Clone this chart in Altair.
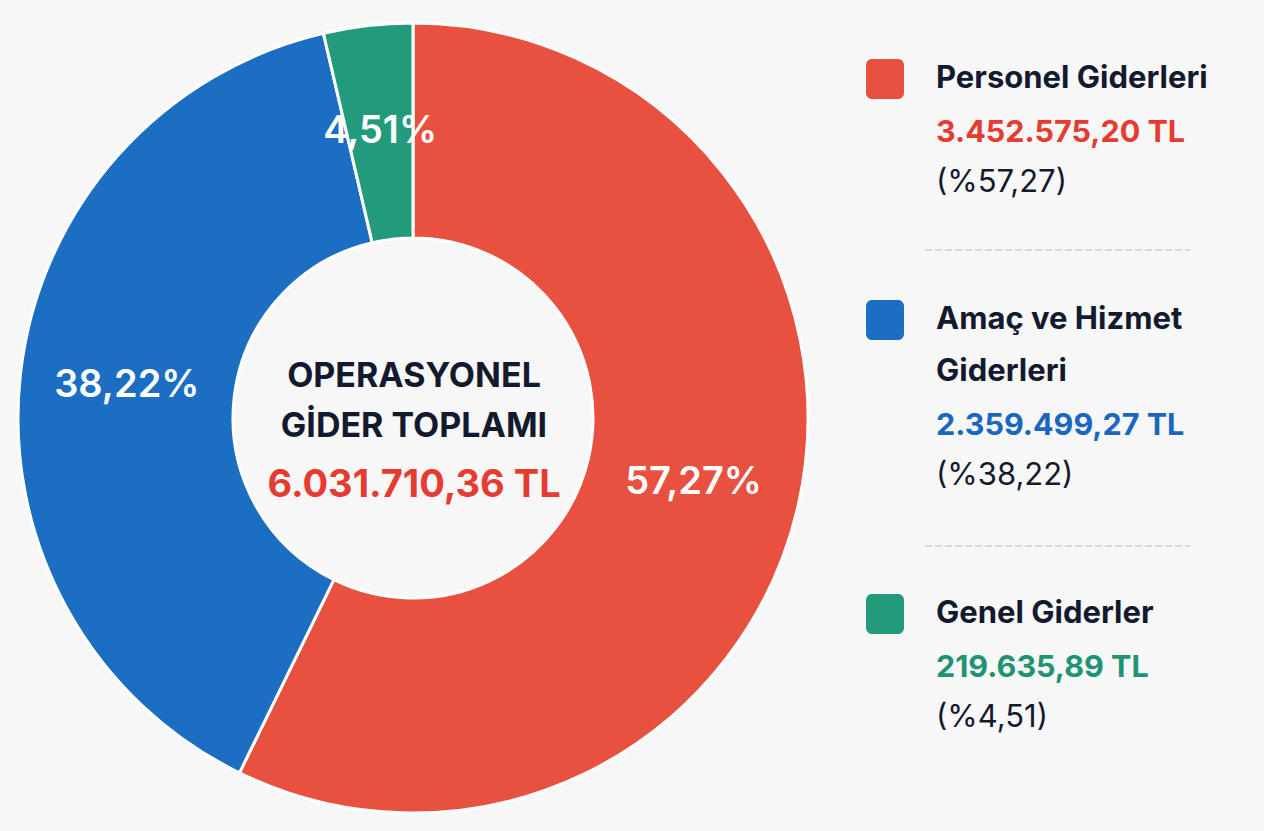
import altair as alt
import pandas as pd

# ---- data ----
categories = ["Personel Giderleri", "Amaç ve Hizmet Giderleri", "Genel Giderler"]
amounts = [3452575.20, 2359499.27, 219635.89]
percent_labels = ["57,27%", "38,22%", "4,51%"]
amount_labels = ["3.452.575,20 TL", "2.359.499,27 TL", "219.635,89 TL"]
paren_labels = ["(%57,27)", "(%38,22)", "(%4,51)"]
legend_title_lines = [["Personel Giderleri"], ["Amaç ve Hizmet", "Giderleri"], ["Genel Giderler"]]
center_lines = ["OPERASYONEL", "GİDER TOPLAMI"]
center_total = "6.031.710,36 TL"

# ---- style ----
slice_colors = ["#E8503F", "#1B6EC2", "#249A7C"]
text_colors = ["#E63B30", "#1A67C0", "#1E9474"]
dark = "#141A2E"
bg = "#F7F7F8"
FONT = "Inter"

W, H = 1264, 831
CX, CY = 413, 418
R_OUT, R_IN = 395, 180

df = pd.DataFrame({
    "cat": categories,
    "value": amounts,
    "label": percent_labels,
    "idx": list(range(len(categories))),
})

color_scale = alt.Scale(domain=categories, range=slice_colors)

base = alt.Chart(df).encode(
    theta=alt.Theta("value:Q", stack=True),
    order=alt.Order("idx:Q", sort="ascending"),
)

arcs = base.mark_arc(
    innerRadius=R_IN, outerRadius=R_OUT, stroke="white", strokeWidth=3
).encode(
    color=alt.Color("cat:N", scale=color_scale, legend=None),
    x=alt.value(CX), y=alt.value(CY),
)

pct_text = base.mark_text(
    radius=288, font=FONT, fontSize=38, fontWeight=600, color="white",
    align="center", baseline="middle",
).encode(
    text="label:N",
    x=alt.value(CX), y=alt.value(CY),
)

layers = [arcs, pct_text]

# center text
center_baselines = [387, 437]
for line, yb in zip(center_lines, center_baselines):
    layers.append(
        alt.Chart(pd.DataFrame({"t": [line]})).mark_text(
            font=FONT, fontSize=34, fontWeight="bold", color=dark,
            align="center", baseline="alphabetic",
        ).encode(text="t:N", x=alt.value(414), y=alt.value(yb))
    )
layers.append(
    alt.Chart(pd.DataFrame({"t": [center_total]})).mark_text(
        font=FONT, fontSize=38, fontWeight="bold", color=text_colors[0],
        align="center", baseline="alphabetic",
    ).encode(text="t:N", x=alt.value(414), y=alt.value(497))
)

# legend
SQ_X, SQ_W = 866, 38
TX = 936
row_tops = [59, 300, 594]
for i, cat in enumerate(categories):
    top = row_tops[i]
    layers.append(
        alt.Chart(pd.DataFrame({"c": [cat]})).mark_rect(
            cornerRadius=6, color=slice_colors[i]
        ).encode(
            x=alt.value(SQ_X), x2=alt.value(SQ_X + SQ_W),
            y=alt.value(top), y2=alt.value(top + 40),
        )
    )
    yb = top + 29
    for tl in legend_title_lines[i]:
        layers.append(
            alt.Chart(pd.DataFrame({"t": [tl]})).mark_text(
                font=FONT, fontSize=31, fontWeight="bold", color=dark,
                align="left", baseline="alphabetic",
            ).encode(text="t:N", x=alt.value(TX), y=alt.value(yb))
        )
        yb += 52
    yb += 2
    layers.append(
        alt.Chart(pd.DataFrame({"t": [amount_labels[i]]})).mark_text(
            font=FONT, fontSize=30.5, fontWeight="bold", color=text_colors[i],
            align="left", baseline="alphabetic",
        ).encode(text="t:N", x=alt.value(TX), y=alt.value(yb))
    )
    yb += 50
    layers.append(
        alt.Chart(pd.DataFrame({"t": [paren_labels[i]]})).mark_text(
            font=FONT, fontSize=31, fontWeight="normal", color=dark,
            align="left", baseline="alphabetic",
        ).encode(text="t:N", x=alt.value(TX), y=alt.value(yb))
    )

# separators
for ys in [250, 546]:
    layers.append(
        alt.Chart(pd.DataFrame({"s": [0]})).mark_rule(
            color="#CFCFD3", strokeWidth=1.5, strokeDash=[7, 3]
        ).encode(x=alt.value(925), x2=alt.value(1190), y=alt.value(ys))
    )

chart = alt.layer(*layers).properties(
    width=W, height=H, padding=0, autosize=alt.AutoSizeParams(type="none"),
    background=bg,
).configure_view(stroke=None)

chart.save("out.html", embed_options={"renderer": "svg", "actions": False})
